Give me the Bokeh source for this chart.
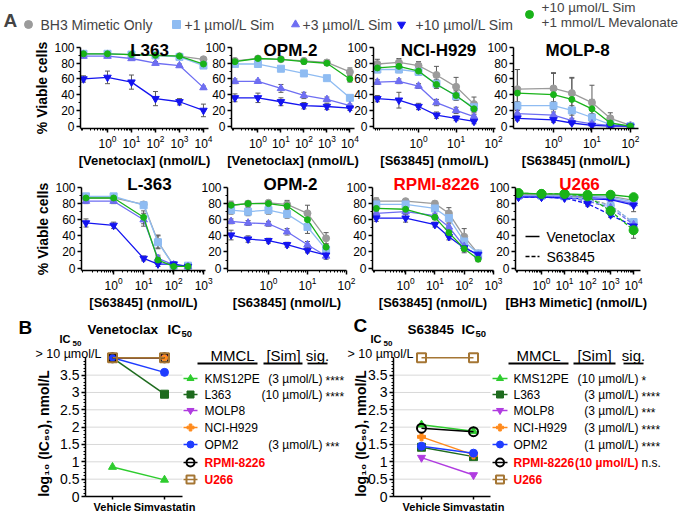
import math
from bokeh.plotting import figure
from bokeh.layouts import column, row
from bokeh.models import (Range1d, FixedTicker, Whisker, ColumnDataSource, Label,
                          TeeHead, NumeralTickFormatter)
from bokeh.embed import file_html
from bokeh.resources import INLINE

FONT = "Liberation Sans"
BLACK = "#000000"
RED = "#ff0000"

# ======================= DATA =======================
# ---- Panel A series ----
series_labels = ["BH3 Mimetic Only", "+1 µmol/L Sim", "+3 µmol/L Sim",
                 "+10 µmol/L Sim", "+10 µmol/L Sim\n+1 mmol/L Mevalonate"]
series_colors = ["#9b9b9b", "#8fbcf2", "#6e6ef2", "#1414f0", "#19b319"]
series_markers = ["circle", "square", "triangle", "inverted_triangle", "circle"]

# concentrations (nmol/L); first value = drug-free control drawn at the y axis
l363_ven_conc = [0.1, 1, 10, 100, 1000, 10000]
opm2_ven_conc = [0.1, 1, 10, 100, 1000, 10000]
nci_s63_conc = [0.08, 0.3, 1, 3, 10, 30]
molp8_s63_conc = [0.115, 1, 3, 10, 30, 100]
l363_s63_conc = [0.12, 1, 10, 30, 100, 300]
opm2_s63_conc = [0.11, 0.3, 1, 3, 10, 30]
rpmi_s63_conc = [0.1, 1, 10, 30, 100, 300]
u266_conc = [0.1, 1, 10, 100, 1000, 10000]

# % viable cells (rows: only, +1 Sim, +3 Sim, +10 Sim, +10 Sim +Mev)
l363_ven = [[92, 92, 91, 90, 89, 85], [92, 92, 91, 90, 88, 77], [89, 89, 86, 80, 77, 49],
            [60, 62, 56, 35, 31, 20], [92, 92, 91, 90, 89, 79]]
l363_ven_err = [[2, 2, 2, 2, 2, 3], [2, 2, 2, 2, 2, 3], [2, 2, 2, 2, 2, 2],
                [4, 8, 9, 9, 4, 8], [2, 2, 2, 2, 2, 3]]
opm2_ven = [[83, 86, 85, 83, 81, 69], [79, 79, 73, 67, 61, 36], [57, 57, 48, 39, 34, 26],
            [36, 36, 31, 26, 25, 23], [82, 86, 85, 82, 80, 60]]
opm2_ven_err = [[3, 2, 2, 3, 3, 5], [2, 2, 2, 2, 2, 3], [3, 2, 5, 4, 3, 2],
                [5, 6, 5, 4, 4, 3], [3, 2, 2, 3, 3, 4]]
nci_s63 = [[79, 81, 77, 65, 50, 28], [72, 72, 69, 54, 38, 24], [56, 57, 51, 30, 20, 12],
           [35, 33, 25, 14, 10, 6], [74, 76, 70, 53, 39, 22]]
nci_s63_err = [[6, 5, 5, 11, 12, 9], [4, 4, 4, 5, 5, 5], [3, 3, 3, 4, 4, 3],
               [4, 10, 4, 4, 3, 3], [4, 4, 5, 5, 6, 5]]
molp8_s63 = [[47, 48, 42, 30, 10, 1], [26, 26, 20, 11, 2, 0], [16, 14, 7, 3, 1, 0],
             [10, 8, 4, 1, 0, 0], [42, 40, 34, 22, 4, 0]]
molp8_s63_err = [[25, 20, 20, 22, 7, 1], [5, 5, 6, 5, 2, 1], [4, 4, 3, 2, 1, 1],
                 [3, 3, 2, 1, 1, 1], [30, 27, 27, 12, 3, 1]]
l363_s63 = [[87, 87, 79, 33, 3, 2], [89, 89, 78, 32, 3, 3], [83, 83, 60, 12, 4, 2],
            [56, 53, 12, 5, 5, 2], [87, 87, 63, 10, 2, 2]]
l363_s63_err = [[3, 3, 3, 8, 2, 2], [3, 3, 3, 8, 2, 2], [3, 3, 8, 4, 2, 2],
                [5, 4, 3, 3, 3, 2], [3, 3, 8, 4, 2, 2]]
opm2_s63 = [[78, 80, 81, 79, 68, 37], [72, 70, 72, 67, 51, 23], [58, 56, 55, 45, 29, 15],
            [41, 36, 34, 29, 22, 16], [78, 80, 80, 77, 60, 26]]
opm2_s63_err = [[5, 3, 3, 5, 10, 7], [5, 5, 5, 5, 8, 5], [3, 3, 3, 4, 4, 4],
                [6, 4, 3, 3, 3, 3], [3, 3, 3, 4, 6, 4]]
rpmi_s63 = [[83, 83, 80, 68, 39, 18], [79, 79, 74, 62, 33, 18], [68, 70, 65, 51, 27, 15],
            [62, 62, 54, 39, 25, 17], [74, 73, 63, 44, 24, 11]]
rpmi_s63_err = [[4, 3, 3, 7, 10, 4], [3, 3, 3, 5, 8, 3], [3, 3, 3, 4, 5, 3],
                [4, 5, 3, 4, 4, 3], [3, 3, 3, 4, 5, 3]]
u266_ven = [[91, 91, 91, 90, 89, 84], [90, 90, 90, 89, 88, 82], [89, 89, 89, 88, 86, 80],
            [88, 88, 87, 86, 85, 78], [93, 92, 92, 91, 91, 88]]
u266_ven_err = [[2, 2, 2, 2, 2, 3], [2, 2, 2, 2, 2, 3], [2, 2, 2, 2, 2, 3],
                [2, 2, 2, 2, 3, 8], [2, 2, 2, 2, 2, 3]]
u266_s63 = [[91, 91, 90, 86, 78, 56], [90, 90, 89, 85, 77, 57], [89, 89, 88, 83, 75, 54],
            [88, 88, 87, 80, 66, 52], [93, 92, 92, 89, 71, 47]]
u266_s63_err = [[2, 2, 2, 3, 3, 4], [2, 2, 2, 3, 3, 4], [2, 2, 2, 3, 3, 4],
                [2, 2, 2, 3, 3, 4], [2, 2, 2, 3, 4, 10]]

# ---- Panels B / C : log10(IC50) ----
mmcl = ["KMS12PE", "L363", "MOLP8", "NCI-H929", "OPM2", "RPMI-8226", "U266"]
mmcl_colors = ["#2ecc2e", "#1e6b1e", "#b03ce0", "#ff8a1c", "#1f3cff", "#000000", "#a57634"]
mmcl_markers = ["triangle", "square", "inverted_triangle", "plus", "circle", "circle", "square"]
mmcl_hollow = [False, False, False, False, False, True, True]
mmcl_red = [False, False, False, False, False, True, True]
ven_ic50_vehicle = [0.85, 4.0, 4.0, 4.0, 4.0, 4.0, 4.0]
ven_ic50_sim = [0.48, 2.95, 4.0, 4.0, 3.58, 4.0, 4.0]
ven_sim_conc = ["(3 µmol/L)", "(10 µmol/L)", "", "", "(3 µmol/L)", "", ""]
ven_sig = ["****", "****", "", "", "***", "", ""]
s63_ic50_vehicle = [2.07, 1.42, 1.12, 1.72, 1.45, 1.97, 4.0]
s63_ic50_sim = [1.88, 1.15, 0.62, 1.20, 1.25, 1.87, 4.0]
s63_sim_conc = ["(10 µmol/L)", "(3 µmol/L)", "(3 µmol/L)", "(3 µmol/L)", "(1 µmol/L)",
                "(10 µmol/L)", ""]
s63_sig = ["*", "****", "***", "****", "****", "n.s.", ""]
ic50_ticks = [0, 0.5, 1, 1.5, 2, 2.5, 3, 3.5]
ic50_minor = [i / 10 for i in range(0, 41)]
groups = ["Vehicle", "Simvastatin"]

W, H = 680, 515


# ======================= HELPERS =======================
def style_axis(ax, size):
    ax.axis_line_color = BLACK
    ax.axis_line_width = 1.5
    ax.major_tick_line_color = BLACK
    ax.major_tick_line_width = 1.5
    ax.minor_tick_line_color = BLACK
    ax.minor_tick_line_width = 1
    ax.major_tick_in = 0
    ax.major_tick_out = 4
    ax.minor_tick_in = 0
    ax.minor_tick_out = 2
    ax.major_label_text_font = FONT
    ax.major_label_text_font_size = size
    ax.major_label_text_color = BLACK
    ax.major_label_standoff = 2
    ax.axis_label_text_font = FONT
    ax.axis_label_text_font_style = "bold"
    ax.axis_label_text_color = BLACK


def make_fig(L, R, fl, fr, h, bt, bb, ml, mt=0, **kw):
    p = figure(width=R - L, height=h, min_border_left=fl - L, min_border_right=R - fr,
               min_border_top=bt, min_border_bottom=bb, toolbar_location=None,
               output_backend="svg", margin=(mt, 0, 0, ml), **kw)
    p.outline_line_color = None
    p.background_fill_alpha = 0
    p.border_fill_alpha = 0
    p.xgrid.visible = False
    p.ygrid.visible = False
    return p


# transparent overlay covering the whole page: free texts in page pixels
ov = make_fig(0, W, 0, W, H, 0, 0, 0, mt=-H, x_range=Range1d(0, W), y_range=Range1d(H, 0),
              x_axis_location=None, y_axis_location=None)


def otext(x, y, text, size, bold=False, color=BLACK, align="left", baseline="middle",
          angle=0.0):
    ov.add_layout(Label(x=x, y=y, text=text, text_font=FONT, text_font_size=f"{size}px",
                        text_font_style="bold" if bold else "normal", text_color=color,
                        text_align=align, text_baseline=baseline, angle=angle))


ROW1 = dict(top=36, h=134, bt=11, bb=36, base=50)
ROW2 = dict(top=170, h=142, bt=17, bb=36, base=184)
LOG_MINOR = [m * 10.0 ** k for k in range(-2, 5) for m in range(2, 10)]


def panel_a(geo, rg, title, title_x, conc, means, errs, majors, xlabel, ylabel=None,
            title_color=BLACK, means2=None, errs2=None, green_size=6):
    L, R, fl, fr, d0, d1, ml = geo
    p = make_fig(L, R, fl, fr, rg["h"], rg["bt"], rg["bb"], ml, x_axis_type="log",
                 x_range=Range1d(10 ** d0, 10 ** d1), y_range=Range1d(-3, 100))
    xa, ya = p.xaxis[0], p.yaxis[0]
    style_axis(xa, "12px")
    style_axis(ya, "12px")
    xa.ticker = FixedTicker(ticks=majors, minor_ticks=LOG_MINOR)
    ya.ticker = FixedTicker(ticks=[0, 20, 40, 60, 80, 100], minor_ticks=[10, 30, 50, 70, 90])
    xa.axis_label = xlabel
    xa.axis_label_text_font_size = "13px"
    xa.axis_label_standoff = 2
    if ylabel:
        ya.axis_label = ylabel
        ya.axis_label_text_font_size = "14px"
        ya.axis_label_standoff = 1
    sets = [(means, errs, "solid")]
    if means2 is not None:
        sets.append((means2, errs2, "4 2"))
    for mset, eset, dash in sets:
        for i in range(5):
            src = ColumnDataSource(dict(
                x=conc, lo=[m - e for m, e in zip(mset[i], eset[i])],
                hi=[m + e for m, e in zip(mset[i], eset[i])]))
            p.add_layout(Whisker(base="x", lower="lo", upper="hi", source=src,
                                 line_color="#5a5a5a", line_width=1,
                                 upper_head=TeeHead(size=5, line_color="#5a5a5a", line_width=1),
                                 lower_head=TeeHead(size=5, line_color="#5a5a5a", line_width=1)))
    for mset, eset, dash in sets:
        for i in range(5):
            p.line(conc, mset[i], line_color=series_colors[i], line_width=1.3, line_dash=dash)
            size = green_size if i == 4 else (7.5 if i in (2, 3) else 7)
            p.scatter(conc, mset[i], marker=series_markers[i], size=size,
                      fill_color=series_colors[i], line_color=series_colors[i])
    otext(title_x, rg["base"], title, 17, bold=True, color=title_color, align="center",
          baseline="alphabetic")
    return p


# ======================= HEADER (legend of A) =======================
hdr = figure(width=W, height=36, x_range=Range1d(0, W), y_range=Range1d(36, 0),
             toolbar_location=None, output_backend="svg", min_border=0,
             x_axis_location=None, y_axis_location=None)
hdr.outline_line_color = None
hdr.xgrid.visible = False
hdr.ygrid.visible = False
hdr.add_layout(Label(x=3, y=20, text="A", text_font=FONT, text_font_size="19px",
                     text_font_style="bold", text_baseline="middle"))
hdr_marker_x = [28, 176, 295, 401, 529]
hdr_marker_y = [24, 24, 24, 24, 14]
hdr_text_x = [40, 184, 302, 415, 541]
for i in range(5):
    hdr.scatter([hdr_marker_x[i]], [hdr_marker_y[i]], marker=series_markers[i], size=8,
                fill_color=series_colors[i], line_color=series_colors[i])
    lines = series_labels[i].split("\n")
    if len(lines) == 1:
        hdr.add_layout(Label(x=hdr_text_x[i], y=24, text=lines[0], text_font=FONT,
                             text_font_size="14px", text_baseline="middle"))
    else:
        for ln, yy in zip(lines, [7, 22]):
            hdr.add_layout(Label(x=hdr_text_x[i], y=yy, text=ln, text_font=FONT,
                                 text_font_size="13.5px", text_baseline="middle"))

# ======================= PANEL A =======================
VEN_LBL = "[Venetoclax] (nmol/L)"
S63_LBL = "[S63845] (nmol/L)"
YLBL = "% Viable cells"

a1 = panel_a((0, 218, 80, 208, -1.125, 4.21, 0), ROW1, "L363", 149, l363_ven_conc, l363_ven,
             l363_ven_err, [1, 10, 100, 1000, 10000], VEN_LBL, YLBL)
a2 = panel_a((201, 364, 231, 354, -1.15, 4.2, -17), ROW1, "OPM-2", 290, opm2_ven_conc,
             opm2_ven, opm2_ven_err, [1, 10, 100, 1000, 10000], VEN_LBL)
a3 = panel_a((343, 505, 373, 495, -1.2, 2.05, -21), ROW1, "NCI-H929", 438, nci_s63_conc,
             nci_s63, nci_s63_err, [1, 10, 100], S63_LBL)
a4 = panel_a((483, W, 513, 638, -1.04, 2.21, -22), ROW1, "MOLP-8", 577, molp8_s63_conc,
             molp8_s63, molp8_s63_err, [1, 10, 100], S63_LBL)

a5 = panel_a((0, 218, 81, 205, -1.07, 3.06, 0), ROW2, "L-363", 149, l363_s63_conc, l363_s63,
             l363_s63_err, [1, 10, 100, 1000], S63_LBL, YLBL)
a6 = panel_a((197, 364, 227, 346, -1.05, 2.0, -21), ROW2, "OPM-2", 290, opm2_s63_conc,
             opm2_s63, opm2_s63_err, [1, 10, 100], S63_LBL)
a7 = panel_a((343, 505, 369, 493, -1.13, 3.0, -21), ROW2, "RPMI-8226", 436, rpmi_s63_conc,
             rpmi_s63, rpmi_s63_err, [1, 10, 100, 1000], S63_LBL, title_color=RED)
a8 = panel_a((485, W, 515, 640, -1.13, 4.3, -20), ROW2, "U266", 579, u266_conc, u266_ven,
             u266_ven_err, [1, 10, 100, 1000, 10000], "[BH3  Mimetic] (nmol/L)",
             title_color=RED, means2=u266_s63, errs2=u266_s63_err, green_size=9)
# U266 line-style key
ov.line([525, 539], [236, 236], line_color=BLACK, line_width=1.5)
ov.line([525, 539], [256, 256], line_color=BLACK, line_width=1.5, line_dash="4 2")
otext(546, 236, "Venetoclax", 14)
otext(546, 256, "S63845", 14)


# ======================= PANELS B / C =======================
ROW3 = dict(top=312, h=203, bt=2, bb=16)


def panel_ic50(cfg, vehicle, sim, conc_txt, sig_txt):
    L, R, fl, fr, ml, x0 = cfg["L"], cfg["R"], cfg["fl"], cfg["fr"], cfg["ml"], cfg["x0"]
    fb = ROW3["top"] + ROW3["h"] - ROW3["bb"]
    ft = ROW3["top"] + ROW3["bt"]
    ppx, ppy = 52.0, (fb - 358) / 4.0
    x_start, x_end = (fl - x0) / ppx, (fr - x0) / ppx
    p = make_fig(L, R, fl, fr, ROW3["h"], ROW3["bt"], ROW3["bb"], ml,
                 x_range=Range1d(x_start, x_end), y_range=Range1d(0, (fb - ft) / ppy))
    xa, ya = p.xaxis[0], p.yaxis[0]
    style_axis(xa, "11px")
    style_axis(ya, "14px")
    xa.ticker = FixedTicker(ticks=[0, 1])
    xa.major_label_overrides = {0: groups[0], 1: groups[1]}
    xa.major_label_text_font_style = "bold"
    xa.major_tick_out = 3
    xa.major_label_standoff = 1
    grid_end = (cfg["grid_end"] - x0) / ppx
    xa.bounds = (x_start, grid_end)
    ya.ticker = FixedTicker(ticks=ic50_ticks, minor_ticks=ic50_minor)
    ya.formatter = NumeralTickFormatter(format="0.[0]")
    ya.bounds = (0, 4)
    gy = ic50_ticks[1:]
    p.segment(x0=[x_start] * len(gy), y0=gy, x1=[grid_end] * len(gy), y1=gy,
              line_color="#d8d8d8", line_width=1)
    for i in range(len(mmcl)):
        c = mmcl_colors[i]
        fill = None if mmcl_hollow[i] else c
        lw = 2 if mmcl_hollow[i] else 1
        p.line([0, 1], [vehicle[i], sim[i]], line_color=c, line_width=1.5)
        p.scatter([0, 1], [vehicle[i], sim[i]], marker=mmcl_markers[i],
                  size=9 if mmcl_hollow[i] else 8, fill_color=fill, line_color=c,
                  line_width=lw)
    # legend table (drawn on the page overlay)
    lg = cfg["leg"]
    for i in range(len(mmcl)):
        py = lg["rows"][i]
        c = mmcl_colors[i]
        fill = None if mmcl_hollow[i] else c
        lw = 2 if mmcl_hollow[i] else 1
        ov.line([lg["l0"], lg["l1"]], [py, py], line_color=c, line_width=1.5)
        ov.scatter([(lg["l0"] + lg["l1"]) / 2], [py], marker=mmcl_markers[i],
                   size=8 if mmcl_hollow[i] else 7, fill_color=fill, line_color=c,
                   line_width=lw)
        col = RED if mmcl_red[i] else BLACK
        otext(lg["label"], py, mmcl[i], 12, bold=mmcl_red[i], color=col)
        if conc_txt[i]:
            otext(lg["conc"], py, conc_txt[i], 12, bold=mmcl_red[i], color=col, align="right")
        if sig_txt[i]:
            otext(lg["sig"], py + (2 if "*" in sig_txt[i] else 0), sig_txt[i], 12)
    for (cx, u0, u1), head in zip(lg["heads"], ["MMCL", "[Sim]", "sig."]):
        otext(cx, lg["head_y"], head, 15, align="center")
        ov.segment(x0=[u0], y0=[lg["ul_y"]], x1=[u1], y1=[lg["ul_y"]], line_color=BLACK,
                   line_width=1.8)
    t = cfg["titles"]
    otext(t["letter"][0], t["letter"][1], cfg["letter"], 19, bold=True)
    otext(t["name"], 329, cfg["name"], 13.5, bold=True)
    otext(t["ic"], 329, "IC", 13.5, bold=True)
    otext(t["ic"] + 14, 333, "50", 9.5, bold=True)
    otext(t["ic_small"], 338, "IC", 11, bold=True)
    otext(t["ic_small"] + 13, 343, "50", 8, bold=True)
    otext(t["gt"], 353, "> 10 µmol/L", 12.5)
    otext(t["ylab"], 433, "log₁₀ (IC₅₀), nmol/L", 14, bold=True, align="center",
          angle=math.pi / 2)
    return p


B_CFG = dict(L=0, R=340, fl=85, fr=340, ml=0, x0=112, grid_end=182,
             letter="B", name="Venetoclax",
             titles=dict(letter=(18, 327), name=87, ic=167, ic_small=59, gt=35, ylab=43),
             leg=dict(rows=[378, 394, 410, 427, 444, 462, 479], l0=183, l1=197, label=204,
                      conc=322, sig=325, head_y=355, ul_y=363,
                      heads=[(232, 197, 257), (283, 263, 302), (317, 307, 327)]))
C_CFG = dict(L=340, R=W, fl=393, fr=W, ml=0, x0=421, grid_end=490,
             letter="C", name="S63845",
             titles=dict(letter=(353, 325), name=407, ic=461, ic_small=370, gt=347, ylab=360),
             leg=dict(rows=[378, 394, 410, 427, 444, 462, 479], l0=492, l1=507, label=513,
                      conc=638, sig=641, head_y=355, ul_y=363,
                      heads=[(538, 508, 568), (594, 573, 615), (633, 623, 643)]))

pb = panel_ic50(B_CFG, ven_ic50_vehicle, ven_ic50_sim, ven_sim_conc, ven_sig)
pc = panel_ic50(C_CFG, s63_ic50_vehicle, s63_ic50_sim, s63_sim_conc, s63_sig)

layout = column(hdr, row(a1, a2, a3, a4), row(a5, a6, a7, a8), row(pb, pc), ov)

with open("out.html", "w") as f:
    f.write(file_html(layout, INLINE))
